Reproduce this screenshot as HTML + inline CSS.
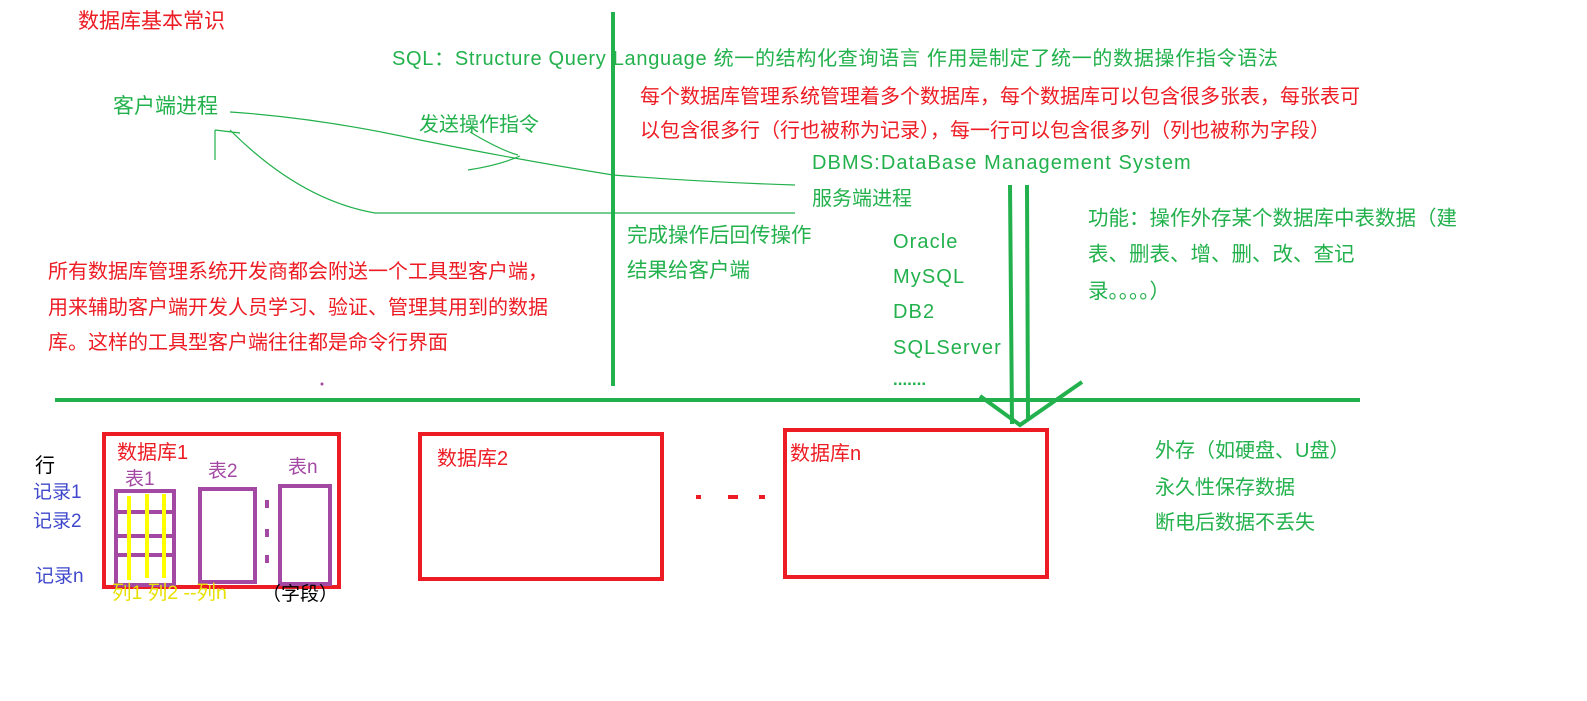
<!DOCTYPE html>
<html><head><meta charset="utf-8"><style>
body{margin:0;width:1587px;height:701px;background:#fff;position:relative;overflow:hidden;font-family:"Liberation Sans","Noto Sans CJK SC",sans-serif;}
.t{position:absolute;white-space:nowrap;line-height:1;}
.g{color:#22b14c}.r{color:#ed1c24}.b{color:#3f48cc}.y{color:#e8e000}.p{color:#a349a4}
.ls{letter-spacing:1.1px}
svg{position:absolute;left:0;top:0}
</style></head><body>
<svg width="1587" height="701">
<g stroke="#22b14c" fill="none">
<line x1="613" y1="12" x2="613" y2="386" stroke-width="4"/>
<line x1="55" y1="400" x2="1360" y2="400" stroke-width="4"/>
<line x1="1010" y1="185" x2="1012" y2="424" stroke-width="4"/>
<line x1="1027" y1="185" x2="1028" y2="420" stroke-width="4"/>
<polyline points="980,396 1020,425 1082,382" stroke-width="4"/>
<path d="M230,112 Q320,118 420,140 Q520,160 613,175 Q700,182 795,185" stroke-width="1.2"/>
<path d="M470,132 Q500,150 518,155 M468,170 Q500,165 520,156" stroke-width="1.2"/>
<path d="M795,213 L375,213 Q300,200 230,130 M215,130 L215,160 M215,130 L240,133" stroke-width="1.2"/>
</g>
<g stroke="#ed1c24" stroke-width="4" fill="none">
<rect x="104" y="434" width="235" height="153"/>
<rect x="420" y="434" width="242" height="145"/>
<rect x="785" y="430" width="262" height="147"/>
</g>
<g fill="#ed1c24"><rect x="696" y="495" width="5" height="4"/><rect x="728" y="495" width="10" height="4"/><rect x="759" y="495" width="6" height="4"/></g>
<g stroke="#a349a4" stroke-width="4" fill="none">
<rect x="116" y="491" width="58" height="94"/>
<rect x="200" y="489" width="55" height="93"/>
<rect x="280" y="486" width="50" height="98"/>
<line x1="116" y1="512" x2="174" y2="512"/><line x1="116" y1="536" x2="174" y2="536"/><line x1="116" y1="555" x2="174" y2="555"/>
<line x1="267" y1="500" x2="267" y2="508"/><line x1="267" y1="529" x2="267" y2="537"/><line x1="267" y1="555" x2="267" y2="563"/>
</g>
<g stroke="#ffff00" stroke-width="4"><line x1="129" y1="496" x2="129" y2="580"/><line x1="147" y1="494" x2="147" y2="578"/><line x1="164" y1="494" x2="164" y2="578"/></g>
<circle cx="322" cy="384" r="1.5" fill="#a349a4"/>
</svg>
<div class="t r" style="left:78px;top:11px;font-size:21px">数据库基本常识</div>
<div class="t g" style="left:392px;top:49px;font-size:20px;letter-spacing:0.7px">SQL：Structure Query Language 统一的结构化查询语言 作用是制定了统一的数据操作指令语法</div>
<div class="t r" style="left:640px;top:87px;font-size:20px">每个数据库管理系统管理着多个数据库，每个数据库可以包含很多张表，每张表可</div>
<div class="t r" style="left:640px;top:121px;font-size:20px">以包含很多行（行也被称为记录），每一行可以包含很多列（列也被称为字段）</div>
<div class="t g ls" style="left:812px;top:153px;font-size:20px">DBMS:DataBase Management System</div>
<div class="t g" style="left:812px;top:189px;font-size:20px">服务端进程</div>
<div class="t g" style="left:113px;top:96px;font-size:21px">客户端进程</div>
<div class="t g" style="left:419px;top:115px;font-size:20px">发送操作指令</div>
<div class="t g" style="left:627px;top:226px;font-size:20.5px">完成操作后回传操作</div>
<div class="t g" style="left:627px;top:261px;font-size:20.5px">结果给客户端</div>
<div class="t g ls" style="left:893px;top:232px;font-size:20px">Oracle</div>
<div class="t g ls" style="left:893px;top:267px;font-size:20px">MySQL</div>
<div class="t g ls" style="left:893px;top:302px;font-size:20px">DB2</div>
<div class="t g ls" style="left:893px;top:338px;font-size:20px">SQLServer</div>
<div class="t g" style="left:893px;top:371px;font-size:17px;font-weight:bold">.......</div>
<div class="t g" style="left:1088px;top:209px;font-size:20.5px">功能：操作外存某个数据库中表数据（建</div>
<div class="t g" style="left:1088px;top:245px;font-size:20.5px">表、删表、增、删、改、查记</div>
<div class="t g" style="left:1088px;top:282px;font-size:20.5px">录。。。。）</div>
<div class="t r" style="left:48px;top:262px;font-size:20px">所有数据库管理系统开发商都会附送一个工具型客户端，</div>
<div class="t r" style="left:48px;top:298px;font-size:20px">用来辅助客户端开发人员学习、验证、管理其用到的数据</div>
<div class="t r" style="left:48px;top:333px;font-size:20px">库。这样的工具型客户端往往都是命令行界面</div>
<div class="t r" style="left:117px;top:443px;font-size:20px">数据库1</div>
<div class="t r" style="left:437px;top:449px;font-size:20px">数据库2</div>
<div class="t r" style="left:790px;top:444px;font-size:20px">数据库n</div>
<div class="t g" style="left:1155px;top:441px;font-size:20px">外存（如硬盘、U盘）</div>
<div class="t g" style="left:1155px;top:478px;font-size:20px">永久性保存数据</div>
<div class="t g" style="left:1155px;top:513px;font-size:20px">断电后数据不丢失</div>
<div class="t p" style="left:125px;top:470px;font-size:19px">表1</div>
<div class="t p" style="left:208px;top:462px;font-size:19px">表2</div>
<div class="t p" style="left:288px;top:458px;font-size:19px">表n</div>
<div class="t" style="left:35px;top:456px;font-size:20px;color:#000">行</div>
<div class="t b" style="left:33px;top:483px;font-size:19px">记录1</div>
<div class="t b" style="left:33px;top:512px;font-size:19px">记录2</div>
<div class="t b" style="left:35px;top:567px;font-size:19px">记录n</div>
<div class="t y" style="left:112px;top:584px;font-size:19.5px">列1 列2 --列n</div>
<div class="t" style="left:262px;top:585px;font-size:19px;color:#000">（字段）</div>
</body></html>
